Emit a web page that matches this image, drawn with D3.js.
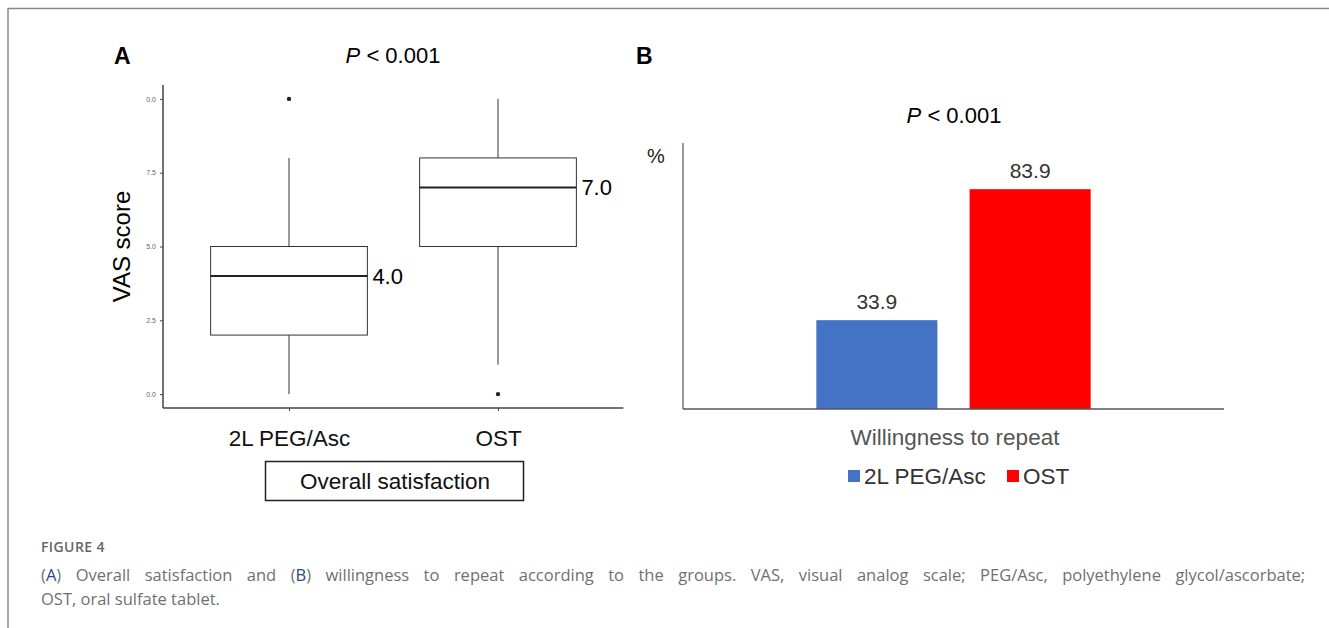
<!DOCTYPE html>
<html>
<head>
<meta charset="utf-8">
<script src="https://cdn.jsdelivr.net/npm/d3@7"></script>
<style>
  body { margin: 0; background: #fff; }
  svg text { font-family: "Liberation Sans", Arial, sans-serif; }
  svg text.caption { font-family: "Open Sans", sans-serif; }
</style>
</head>
<body>
<div id="fig"></div>
<script>
// Panel A: box plot data (VAS score)
const groups = ["2L PEG/Asc", "OST"];
const boxLow = [0, 1];        // lower whisker
const boxQ1 = [2, 5];
const boxMedian = [4, 7];
const boxQ3 = [5, 8];
const boxHigh = [8, 10];      // upper whisker
const outliers = [[10], [0]];
const medianLabels = ["4.0", "7.0"];
const vasTicks = [0, 2.5, 5, 7.5, 10];
const vasTickLabels = ["0.0", "2.5", "5.0", "7.5", "0.0"];

// Panel B: bar data (willingness to repeat, %)
const barGroups = ["2L PEG/Asc", "OST"];
const barValues = [33.9, 83.9];
const barColors = ["#4472C4", "#FF0000"];

const W = 1329, H = 628;
const svg = d3.select("#fig").append("svg")
    .attr("width", W)
    .attr("height", H);

// figure frame (top + left rules)
svg.append("line").attr("x1", 8).attr("x2", W).attr("y1", 8.5).attr("y2", 8.5)
    .attr("stroke", "#888").attr("stroke-width", 1.5);
svg.append("line").attr("x1", 8).attr("x2", 8).attr("y1", 8).attr("y2", H)
    .attr("stroke", "#888").attr("stroke-width", 1.5);

// ---------- Panel A ----------
const xA = d3.scalePoint()
    .domain(groups)
    .range([289, 498]);
const step = xA(groups[1]) - xA(groups[0]);
const yA = d3.scaleLinear()
    .domain([-0.47, 10.47])
    .range([408, 85]);

svg.append("text").attr("x", 114).attr("y", 64)
    .style("font-size", "23px").style("font-weight", "bold").text("A");

const pA = svg.append("text").attr("x", 393).attr("y", 63)
    .attr("text-anchor", "middle").style("font-size", "22px");
pA.append("tspan").style("font-style", "italic").text("P");
pA.append("tspan").text(" < 0.001");

// y axis
svg.append("g")
    .attr("transform", "translate(163,0)")
    .call(d3.axisLeft(yA).tickValues(vasTicks).tickSize(3)
        .tickFormat((d, i) => vasTickLabels[i]))
    .call(g => g.select(".domain").attr("d", `M0,${yA(-0.47)}V${yA(10.47)}`)
        .attr("stroke", "#444").attr("stroke-width", 1.5))
    .call(g => g.selectAll(".tick line").attr("stroke", "#444"))
    .call(g => g.selectAll(".tick text").attr("fill", "#666")
        .style("font-size", "7px").attr("dx", "-1"));

// x axis
svg.append("g")
    .attr("transform", `translate(0,${yA(-0.47)})`)
    .call(d3.axisBottom(xA).tickSize(3).tickPadding(19))
    .call(g => g.select(".domain")
        .attr("d", `M163,0H${xA(groups[1]) + step * 0.6}`)
        .attr("stroke", "#444").attr("stroke-width", 1.5))
    .call(g => g.selectAll(".tick line").attr("stroke", "#444"))
    .call(g => g.selectAll(".tick text").attr("fill", "#111")
        .style("font-size", "22.5px"));

svg.append("text")
    .attr("transform", `translate(130,${yA(5)}) rotate(-90)`)
    .attr("text-anchor", "middle")
    .style("font-size", "24px")
    .text("VAS score");

// boxes
const boxW = step * 0.75;
const boxes = svg.append("g").selectAll("g")
    .data(groups)
    .enter().append("g");

boxes.append("line")
    .attr("x1", d => xA(d)).attr("x2", d => xA(d))
    .attr("y1", (d, i) => yA(boxLow[i])).attr("y2", (d, i) => yA(boxQ1[i]))
    .attr("stroke", "#333");
boxes.append("line")
    .attr("x1", d => xA(d)).attr("x2", d => xA(d))
    .attr("y1", (d, i) => yA(boxQ3[i])).attr("y2", (d, i) => yA(boxHigh[i]))
    .attr("stroke", "#333");
boxes.append("rect")
    .attr("x", d => xA(d) - boxW / 2)
    .attr("width", boxW)
    .attr("y", (d, i) => yA(boxQ3[i]))
    .attr("height", (d, i) => yA(boxQ1[i]) - yA(boxQ3[i]))
    .attr("fill", "#fff").attr("stroke", "#333");
boxes.append("line")
    .attr("x1", d => xA(d) - boxW / 2).attr("x2", d => xA(d) + boxW / 2)
    .attr("y1", (d, i) => yA(boxMedian[i])).attr("y2", (d, i) => yA(boxMedian[i]))
    .attr("stroke", "#222").attr("stroke-width", 2);
boxes.append("text")
    .attr("x", d => xA(d) + boxW / 2 + 5)
    .attr("y", (d, i) => yA(boxMedian[i]) + 8)
    .style("font-size", "22px")
    .text((d, i) => medianLabels[i]);
boxes.each(function (d, i) {
    d3.select(this).selectAll("circle")
        .data(outliers[i])
        .enter().append("circle")
        .attr("cx", xA(d))
        .attr("cy", v => yA(v))
        .attr("r", 2.2)
        .attr("fill", "#222");
});

// "Overall satisfaction" label box
svg.append("rect").attr("x", 265.5).attr("y", 461.5).attr("width", 258).attr("height", 39)
    .attr("fill", "none").attr("stroke", "#222").attr("stroke-width", 1.5);
svg.append("text").attr("x", 395).attr("y", 489)
    .attr("text-anchor", "middle").style("font-size", "22.5px").attr("fill", "#111")
    .text("Overall satisfaction");

// ---------- Panel B ----------
const xB = d3.scaleBand()
    .domain(barGroups)
    .range([683, 1224])
    .paddingInner(0.21)
    .paddingOuter(0.87);
const yB = d3.scaleLinear()
    .domain([0, 100])
    .range([409, 147]);

svg.append("text").attr("x", 636).attr("y", 64)
    .style("font-size", "23px").style("font-weight", "bold").text("B");

const pB = svg.append("text").attr("x", 954).attr("y", 123)
    .attr("text-anchor", "middle").style("font-size", "22px");
pB.append("tspan").style("font-style", "italic").text("P");
pB.append("tspan").text(" < 0.001");

svg.append("text").attr("x", 647).attr("y", 163)
    .style("font-size", "20px").attr("fill", "#222").text("%");

svg.append("g")
    .selectAll("rect")
    .data(barValues)
    .enter().append("rect")
    .attr("x", (d, i) => xB(barGroups[i]))
    .attr("width", xB.bandwidth())
    .attr("y", d => yB(d))
    .attr("height", d => yB(0) - yB(d))
    .attr("fill", (d, i) => barColors[i]);

svg.append("g")
    .selectAll("text")
    .data(barValues)
    .enter().append("text")
    .attr("x", (d, i) => xB(barGroups[i]) + xB.bandwidth() / 2)
    .attr("y", d => yB(d) - 11)
    .attr("text-anchor", "middle")
    .style("font-size", "21px").attr("fill", "#333")
    .text(d => d3.format(".1f")(d));

// axes lines
svg.append("line").attr("x1", 683).attr("x2", 683).attr("y1", 143).attr("y2", yB(0))
    .attr("stroke", "#555").attr("stroke-width", 1.2);
svg.append("line").attr("x1", 683).attr("x2", 1224).attr("y1", yB(0)).attr("y2", yB(0))
    .attr("stroke", "#555").attr("stroke-width", 1.5);

svg.append("text").attr("x", 955).attr("y", 445)
    .attr("text-anchor", "middle").style("font-size", "22.5px").attr("fill", "#555")
    .text("Willingness to repeat");

// legend
const legendX = [848, 1007];
const legend = svg.append("g").selectAll("g")
    .data(barGroups)
    .enter().append("g")
    .attr("transform", (d, i) => `translate(${legendX[i]},470)`);
legend.append("rect").attr("width", 12).attr("height", 12)
    .attr("fill", (d, i) => barColors[i]);
legend.append("text").attr("x", 16).attr("y", 14)
    .style("font-size", "22.5px").attr("fill", "#333")
    .text(d => d);

// ---------- caption ----------
const capSize = 16.5;
svg.append("text").attr("class", "caption")
    .attr("x", 41).attr("y", 552)
    .style("font-size", "14px").style("font-weight", "600")
    .style("letter-spacing", "0.4px").attr("fill", "#666")
    .text("FIGURE 4");

const cap1 = svg.append("text").attr("class", "caption")
    .attr("x", 41).attr("y", 581)
    .style("font-size", capSize + "px").attr("fill", "#707070");
cap1.append("tspan").text("(");
cap1.append("tspan").attr("fill", "#2a4a7a").text("A");
cap1.append("tspan").text(") Overall satisfaction and (");
cap1.append("tspan").attr("fill", "#2a4a7a").text("B");
cap1.append("tspan").text(") willingness to repeat according to the groups. VAS, visual analog scale; PEG/Asc, polyethylene glycol/ascorbate;");

// justify first caption line between x=41 and x=1295
const targetW = 1254;
const natW = cap1.node().getComputedTextLength();
if (natW > targetW) {
    cap1.style("font-size", (capSize * targetW / natW) + "px");
} else {
    cap1.style("word-spacing", ((targetW - natW) / 17) + "px");
}

svg.append("text").attr("class", "caption")
    .attr("x", 41).attr("y", 605)
    .style("font-size", capSize + "px").attr("fill", "#707070")
    .text("OST, oral sulfate tablet.");
</script>
</body>
</html>
